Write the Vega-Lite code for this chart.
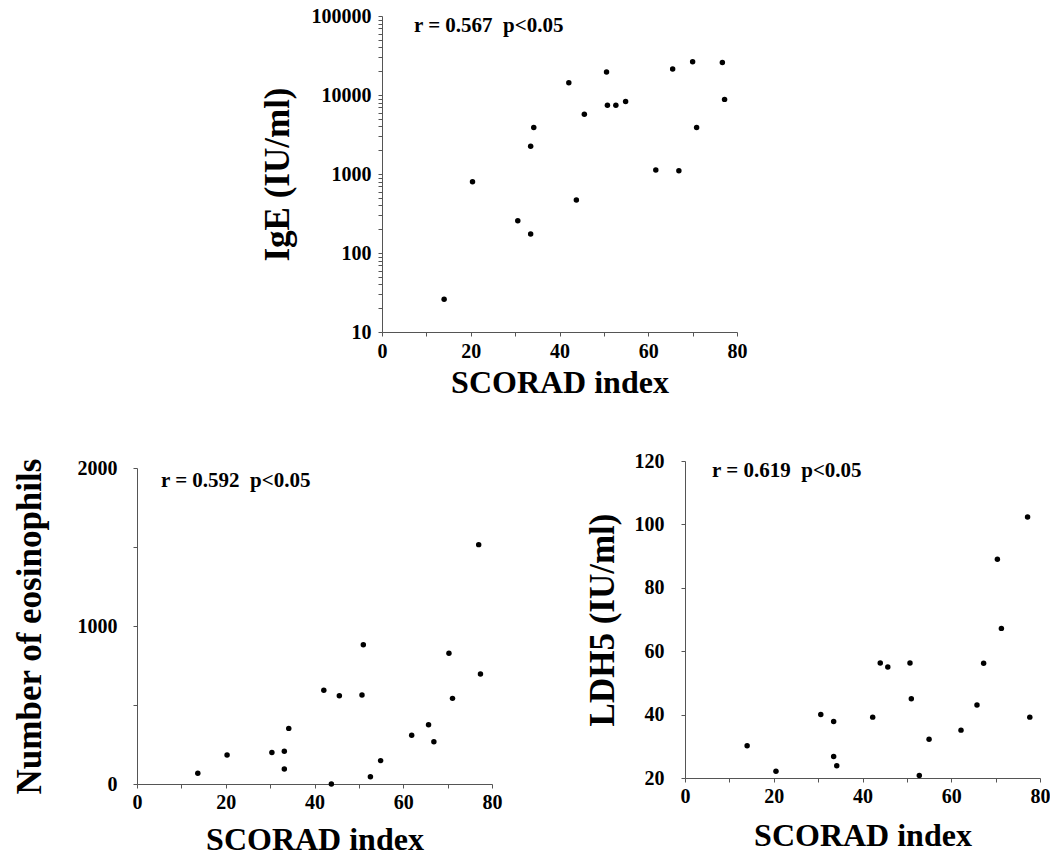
{
  "$schema": "https://vega.github.io/schema/vega-lite/v6.json",
  "padding": {"left": 11, "top": 6, "right": 0, "bottom": 0},
  "background": "white",
  "datasets": {
    "ige": [
      {"scorad": 14.0, "ige": 26}, {"scorad": 20.4, "ige": 800}, {"scorad": 30.6, "ige": 256},
      {"scorad": 33.5, "ige": 174}, {"scorad": 33.5, "ige": 2240}, {"scorad": 34.2, "ige": 3890},
      {"scorad": 42.1, "ige": 14300}, {"scorad": 43.8, "ige": 470}, {"scorad": 45.6, "ige": 5700},
      {"scorad": 50.6, "ige": 19500}, {"scorad": 50.8, "ige": 7400}, {"scorad": 52.7, "ige": 7400},
      {"scorad": 54.9, "ige": 8300}, {"scorad": 61.7, "ige": 1120}, {"scorad": 65.5, "ige": 21400},
      {"scorad": 66.9, "ige": 1100}, {"scorad": 70.0, "ige": 26300}, {"scorad": 70.9, "ige": 3890},
      {"scorad": 76.7, "ige": 25800}, {"scorad": 77.2, "ige": 8800}
    ],
    "eos": [
      {"scorad": 13.7, "eos": 68}, {"scorad": 20.3, "eos": 184}, {"scorad": 30.4, "eos": 200},
      {"scorad": 33.2, "eos": 207}, {"scorad": 33.2, "eos": 95}, {"scorad": 34.2, "eos": 352},
      {"scorad": 42.1, "eos": 593}, {"scorad": 43.8, "eos": 0}, {"scorad": 45.6, "eos": 559},
      {"scorad": 50.7, "eos": 563}, {"scorad": 51.0, "eos": 882}, {"scorad": 52.6, "eos": 46},
      {"scorad": 54.9, "eos": 148}, {"scorad": 61.9, "eos": 308}, {"scorad": 65.7, "eos": 375},
      {"scorad": 66.9, "eos": 268}, {"scorad": 70.3, "eos": 827}, {"scorad": 71.1, "eos": 542},
      {"scorad": 77.0, "eos": 1515}, {"scorad": 77.4, "eos": 696}
    ],
    "ldh": [
      {"scorad": 14.0, "ldh": 30.2}, {"scorad": 20.5, "ldh": 22.1}, {"scorad": 30.6, "ldh": 40.0},
      {"scorad": 33.5, "ldh": 37.8}, {"scorad": 33.5, "ldh": 26.8}, {"scorad": 34.2, "ldh": 23.9},
      {"scorad": 42.3, "ldh": 39.2}, {"scorad": 44.0, "ldh": 56.3}, {"scorad": 45.7, "ldh": 55.0},
      {"scorad": 50.7, "ldh": 56.3}, {"scorad": 51.0, "ldh": 45.0}, {"scorad": 52.8, "ldh": 20.8},
      {"scorad": 55.0, "ldh": 32.2}, {"scorad": 62.2, "ldh": 35.1}, {"scorad": 65.8, "ldh": 43.0},
      {"scorad": 67.3, "ldh": 56.2}, {"scorad": 70.4, "ldh": 89.0}, {"scorad": 71.3, "ldh": 67.2},
      {"scorad": 77.2, "ldh": 102.3}, {"scorad": 77.7, "ldh": 39.2}
    ],
    "note": [{"k": 1}]
  },
  "spacing": 53,
  "vconcat": [
    {
      "spacing": 0,
      "hconcat": [
        {
          "width": 123,
          "height": 10,
          "view": {"fill": "white", "stroke": null},
          "data": {"values": []},
          "mark": "point",
          "encoding": {}
        },
        {
          "width": 355,
          "height": 316,
          "layer": [
            {
              "data": {"name": "ige"},
              "mark": {"type": "circle", "size": 30, "color": "black", "opacity": 1},
              "encoding": {
                "x": {"field": "scorad", "type": "quantitative", "scale": {"domain": [0, 80], "nice": false, "zero": false},
                  "axis": {"title": "SCORAD index", "values": [0, 10, 20, 30, 40, 50, 60, 70, 80], "labelExpr": "datum.value % 20 == 0 ? datum.label : ''", "labelPadding": 5, "titlePadding": 6}},
                "y": {"field": "ige", "type": "quantitative", "scale": {"type": "log", "domain": [10, 100000], "nice": false},
                  "axis": {"title": "IgE (IU/ml)", "format": "d",
                    "values": [10, 20, 30, 40, 50, 60, 70, 80, 90, 100, 200, 300, 400, 500, 600, 700, 800, 900, 1000, 2000, 3000, 4000, 5000, 6000, 7000, 8000, 9000, 10000, 20000, 30000, 40000, 50000, 60000, 70000, 80000, 90000, 100000],
                    "labelExpr": "substring(datum.label, 0, 1) == '1' ? datum.label : ''", "labelPadding": 7, "titlePadding": 16}}
              }
            },
            {
              "data": {"name": "note"},
              "mark": {"type": "text", "align": "left", "baseline": "middle", "font": "Liberation Serif", "fontWeight": "bold", "fontSize": 21, "color": "black"},
              "encoding": {
                "x": {"datum": 7.2, "type": "quantitative"},
                "y": {"datum": 74600, "type": "quantitative"},
                "text": {"value": "r = 0.567\u00a0\u00a0p<0.05"}
              }
            }
          ]
        }
      ]
    },
    {
      "spacing": 83,
      "hconcat": [
        {
          "spacing": 0,
          "bounds": "flush",
          "vconcat": [
            {
              "width": 355,
              "height": 7,
              "view": {"fill": "white", "stroke": null},
              "data": {"values": []},
              "mark": "point",
              "encoding": {}
            },
            {
              "width": 355,
              "height": 316,
              "layer": [
                {
                  "data": {"name": "eos"},
                  "mark": {"type": "circle", "size": 30, "color": "black", "opacity": 1},
                  "encoding": {
                    "x": {"field": "scorad", "type": "quantitative", "scale": {"domain": [0, 80], "nice": false, "zero": false},
                      "axis": {"title": "SCORAD index", "values": [0, 10, 20, 30, 40, 50, 60, 70, 80], "labelExpr": "datum.value % 20 == 0 ? datum.label : ''", "labelPadding": 4, "titlePadding": 12}},
                    "y": {"field": "eos", "type": "quantitative", "scale": {"domain": [0, 2000], "nice": false},
                      "axis": {"title": "Number of eosinophils", "format": "d", "values": [0, 500, 1000, 1500, 2000],
                        "labelExpr": "datum.value % 1000 == 0 ? datum.label : ''", "labelPadding": 16, "titlePadding": 30}}
                  }
                },
                {
                  "data": {"name": "note"},
                  "mark": {"type": "text", "align": "left", "baseline": "middle", "font": "Liberation Serif", "fontWeight": "bold", "fontSize": 21, "color": "black"},
                  "encoding": {
                    "x": {"datum": 5.4, "type": "quantitative"},
                    "y": {"datum": 1918, "type": "quantitative"},
                    "text": {"value": "r = 0.592\u00a0\u00a0p<0.05"}
                  }
                }
              ]
            }
          ]
        },
        {
          "width": 355,
          "height": 317,
          "layer": [
            {
              "data": {"name": "ldh"},
              "mark": {"type": "circle", "size": 30, "color": "black", "opacity": 1},
              "encoding": {
                "x": {"field": "scorad", "type": "quantitative", "scale": {"domain": [0, 80], "nice": false, "zero": false},
                  "axis": {"title": "SCORAD index", "values": [0, 10, 20, 30, 40, 50, 60, 70, 80], "labelExpr": "datum.value % 20 == 0 ? datum.label : ''", "labelPadding": 4, "titlePadding": 14}},
                "y": {"field": "ldh", "type": "quantitative", "scale": {"domain": [20, 120], "nice": false, "zero": false},
                  "axis": {"title": "LDH5 (IU/ml)", "format": "d", "values": [20, 30, 40, 50, 60, 70, 80, 90, 100, 110, 120],
                    "labelExpr": "datum.value % 20 == 0 ? datum.label : ''", "labelPadding": 17, "titlePadding": 14}}
              }
            },
            {
              "data": {"name": "note"},
              "mark": {"type": "text", "align": "left", "baseline": "middle", "font": "Liberation Serif", "fontWeight": "bold", "fontSize": 21, "color": "black"},
              "encoding": {
                "x": {"datum": 6.1, "type": "quantitative"},
                "y": {"datum": 117, "type": "quantitative"},
                "text": {"value": "r = 0.619\u00a0\u00a0p<0.05"}
              }
            }
          ]
        }
      ]
    }
  ],
  "config": {
    "view": {"stroke": null},
    "font": "Liberation Serif",
    "axis": {
      "grid": false,
      "labelFont": "Liberation Serif", "labelFontWeight": "bold", "labelFontSize": 20, "labelColor": "black",
      "labelFlush": false, "labelOverlap": false,
      "titleFont": "Liberation Serif", "titleFontWeight": "bold", "titleColor": "black",
      "domainColor": "#555", "domainWidth": 1, "tickColor": "#555", "tickWidth": 1, "tickSize": 4
    },
    "axisX": {"titleFontSize": 32},
    "axisY": {"titleFontSize": 35}
  }
}
